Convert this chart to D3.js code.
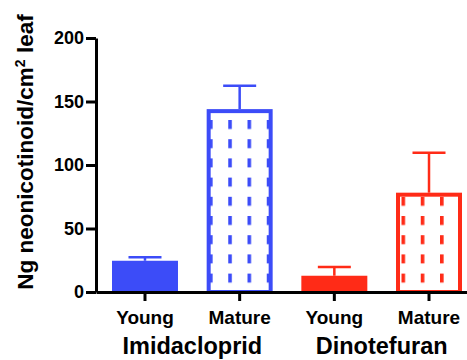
<!DOCTYPE html>
<html>
<head>
<meta charset="utf-8">
<script src="https://cdn.jsdelivr.net/npm/d3@7"></script>
<style>
  body { margin: 0; background: #fff; }
  text { font-family: "Liberation Sans", Arial, sans-serif; font-weight: bold; }
</style>
</head>
<body>
<div id="chart"></div>
<script>
var width = 467;
var height = 360;

// bars, left to right
var keys = ["imi-young", "imi-mature", "din-young", "din-mature"];
var tickLabels = ["Young", "Mature", "Young", "Mature"];
var values = [24.6, 144, 12.8, 78.2];
var errors = [2.7, 18.4, 6.9, 31.5];
var groups = ["Imidacloprid", "Dinotefuran"];
var yTicks = [0, 50, 100, 150, 200];

var blue = "#3c4cf8";
var red = "#ff2b17";
var colors = [blue, blue, red, red];
var hatched = [false, true, false, true];

var svg = d3.select("#chart").append("svg")
    .attr("width", width)
    .attr("height", height);

var x = d3.scaleBand()
    .domain(keys)
    .range([96, 478])
    .paddingInner(0.303)
    .paddingOuter(0.169);

var y = d3.scaleLinear()
    .domain([0, 200])
    .range([292, 38]);

// dashed vertical hatching for the mature bars
var defs = svg.append("defs");
[["hatch-blue", blue], ["hatch-red", red]].forEach(function(p) {
    var pat = defs.append("pattern")
        .attr("id", p[0])
        .attr("patternUnits", "userSpaceOnUse")
        .attr("x", 209)
        .attr("y", 120)
        .attr("width", 19.25)
        .attr("height", 19.2);
    pat.append("rect")
        .attr("x", 0).attr("y", 0)
        .attr("width", 3.6).attr("height", 9)
        .attr("fill", p[1]);
});

var sw = 4;
var bars = svg.append("g");
keys.forEach(function(k, i) {
    var bx = x(k), bw = x.bandwidth();
    if (hatched[i]) {
        bars.append("rect")
            .attr("x", bx + sw / 2)
            .attr("y", y(values[i]) + sw / 2)
            .attr("width", bw - sw)
            .attr("height", y(0) - y(values[i]) - sw / 2)
            .attr("fill", "url(#" + (colors[i] === blue ? "hatch-blue" : "hatch-red") + ")")
            .attr("stroke", colors[i])
            .attr("stroke-width", sw);
    } else {
        bars.append("rect")
            .attr("x", bx)
            .attr("y", y(values[i]))
            .attr("width", bw)
            .attr("height", y(0) - y(values[i]))
            .attr("fill", colors[i]);
    }
    // upper error bar only
    var cx = bx + bw / 2;
    var top = y(values[i] + errors[i]);
    bars.append("line")
        .attr("x1", cx).attr("x2", cx)
        .attr("y1", y(values[i])).attr("y2", top)
        .attr("stroke", colors[i]).attr("stroke-width", 2.5);
    bars.append("line")
        .attr("x1", cx - bw / 4).attr("x2", cx + bw / 4)
        .attr("y1", top).attr("y2", top)
        .attr("stroke", colors[i]).attr("stroke-width", 2.5);
});

// y axis
var yAxis = svg.append("g")
    .attr("transform", "translate(96,0)")
    .call(d3.axisLeft(y).tickValues(yTicks).tickSize(10).tickSizeOuter(0).tickPadding(2));
yAxis.select(".domain").attr("stroke-width", 3);
yAxis.selectAll(".tick line").attr("stroke-width", 3);
yAxis.selectAll(".tick text")
    .attr("font-size", 18)
    .attr("font-family", null)
    .attr("fill", "#000");

// x axis
var xAxis = svg.append("g")
    .attr("transform", "translate(0,292)")
    .call(d3.axisBottom(x).tickSize(9).tickSizeOuter(0).tickPadding(10)
        .tickFormat(function(d, i) { return tickLabels[i]; }));
xAxis.select(".domain").attr("stroke-width", 3);
xAxis.selectAll(".tick line").attr("stroke-width", 3);
xAxis.selectAll(".tick text")
    .attr("font-size", 19)
    .attr("font-family", null)
    .attr("fill", "#000");

// group labels
groups.forEach(function(g, i) {
    var a = x(keys[i * 2]) + x.bandwidth() / 2;
    var b = x(keys[i * 2 + 1]) + x.bandwidth() / 2;
    svg.append("text")
        .attr("x", (a + b) / 2)
        .attr("y", 354)
        .attr("text-anchor", "middle")
        .attr("font-size", 23.5)
        .text(g);
});

// y title
var yt = svg.append("text")
    .attr("transform", "translate(33,152) rotate(-90)")
    .attr("text-anchor", "middle")
    .attr("font-size", 22.5);
yt.append("tspan").text("Ng neonicotinoid/cm");
yt.append("tspan").attr("font-size", 14).attr("dy", -8).text("2");
yt.append("tspan").attr("dy", 8).text(" leaf");
</script>
</body>
</html>
